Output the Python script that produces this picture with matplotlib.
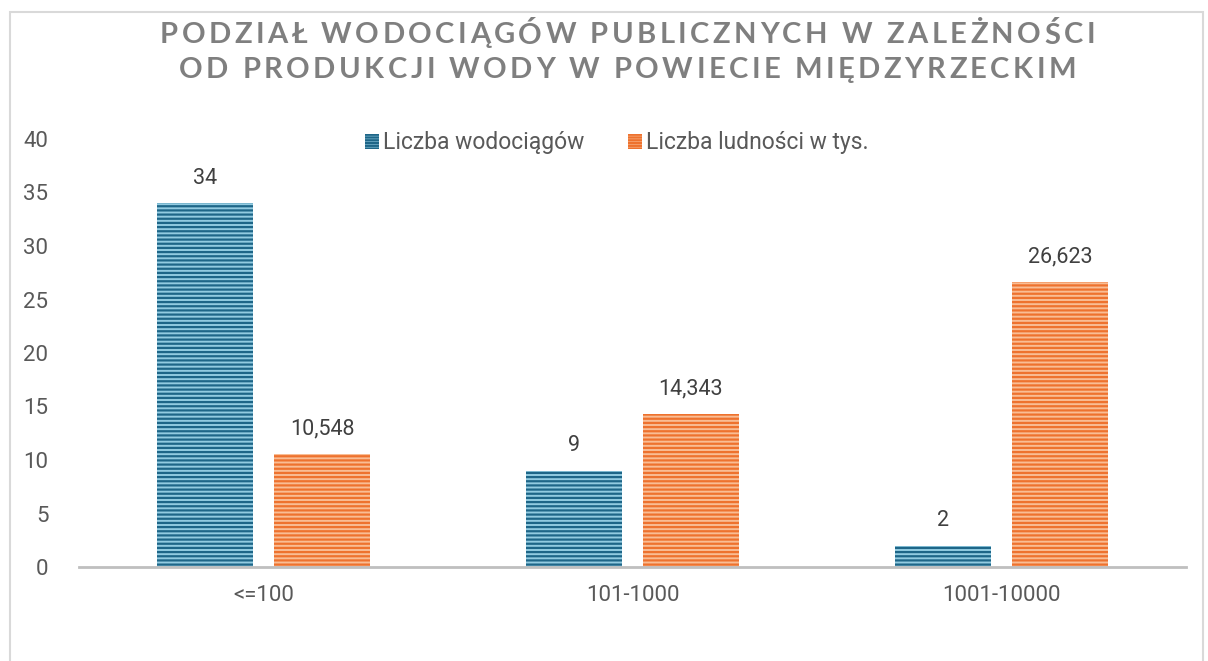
import matplotlib.pyplot as plt
import matplotlib.patches as mpatches
import numpy as np

categories = ["<=100", "101-1000", "1001-10000"]
wodociagi = [34, 9, 2]
ludnosc = [10.548, 14.343, 26.623]
wodociagi_labels = ["34", "9", "2"]
ludnosc_labels = ["10,548", "14,343", "26,623"]
yticks = [0, 5, 10, 15, 20, 25, 30, 35, 40]
legend_labels = ["Liczba wodociągów", "Liczba ludności w tys."]

title_lines = ["PODZIAŁ WODOCIĄGÓW PUBLICZNYCH W ZALEŻNOŚCI",
               "OD PRODUKCJI WODY W POWIECIE MIĘDZYRZECKIM"]

blue_face, blue_line = "#92cbe1", (0x1e / 255, 0x66 / 255, 0x88 / 255, 1)
orange_face, orange_line = "#f9bd94", (0xee / 255, 0x72 / 255, 0x2e / 255, 1)
text_col = "#595959"
label_col = "#404040"

plt.rcParams["font.family"] = ["Roboto", "DejaVu Sans"]
plt.rcParams["hatch.linewidth"] = 1.6

W, H = 1208, 661
fig = plt.figure(figsize=(W / 100, H / 100), dpi=100)
ax = fig.add_axes([79 / W, 1 - 567 / H, (1186 - 79) / W, (567 - 139) / H])

# chart border
fig.patches.append(mpatches.Rectangle((10 / W, -0.1), 1193 / W, 1 - 12 / H + 0.1,
                                      transform=fig.transFigure, fill=False,
                                      edgecolor="#d9d9d9", linewidth=1.5))

x = np.arange(len(categories))
w = 0.26
gap = 0.057
b1 = ax.bar(x - (w + gap) / 2, wodociagi, w, color=blue_face, hatch="----", linewidth=0)
b2 = ax.bar(x + (w + gap) / 2, ludnosc, w, color=orange_face, hatch="----", linewidth=0)
for r in b1:
    r._hatch_color = blue_line
for r in b2:
    r._hatch_color = orange_line

for bars, labels in [(b1, wodociagi_labels), (b2, ludnosc_labels)]:
    for r, lab in zip(bars, labels):
        ax.annotate(lab, (r.get_x() + r.get_width() / 2, r.get_height()), xytext=(0, 18),
                    textcoords="offset points", ha="center", va="center", fontsize=15.5,
                    color=label_col)

ax.set_xlim(-0.5, 2.5)
ax.set_ylim(0, 40)
ax.set_yticks(yticks)
ax.set_xticks(x)
ax.set_xticklabels(categories)
ax.tick_params(axis="both", length=0, labelsize=16, labelcolor=text_col)
ax.tick_params(axis="y", pad=22)
ax.tick_params(axis="x", pad=13)
for s in ["top", "right", "left"]:
    ax.spines[s].set_visible(False)
ax.spines["bottom"].set_color("#bfbfbf")
ax.spines["bottom"].set_linewidth(2)

h1 = mpatches.Patch(facecolor=blue_face, hatch="------", linewidth=0)
h2 = mpatches.Patch(facecolor=orange_face, hatch="------", linewidth=0)
h1._hatch_color = blue_line
h2._hatch_color = orange_line
fig.legend([h1, h2], legend_labels, loc="center",
           bbox_to_anchor=(617 / W, 1 - 143 / H), ncol=2, frameon=False, fontsize=16.5,
           labelcolor=text_col, handlelength=0.6, handleheight=0.6, handletextpad=0.2,
           columnspacing=1.9)

# title with letter spacing, drawn character by character
renderer = fig.canvas.get_renderer()
title_kw = dict(fontsize=21, color="#7f7f7f", family=["Lato", "DejaVu Sans"],
                fontweight="bold", va="center", ha="left")


def char_width(c):
    if c == " ":
        t1 = fig.text(0, 0, "I I", **title_kw)
        t2 = fig.text(0, 0, "II", **title_kw)
        wdt = t1.get_window_extent(renderer).width - t2.get_window_extent(renderer).width
        t1.remove()
        t2.remove()
        return wdt
    t = fig.text(0, 0, c, **title_kw)
    wdt = t.get_window_extent(renderer).width
    t.remove()
    return wdt


widths = [[char_width(c) for c in line] for line in title_lines]
target = 1095 - 160
track = (target - sum(widths[0])) / (len(title_lines[0]) - 1)
centre_x = 627.5
for line, ws, yc in zip(title_lines, widths, [35, 70]):
    total = sum(ws) + track * (len(line) - 1)
    px = centre_x - total / 2
    for c, cw in zip(line, ws):
        if c != " ":
            fig.text(px / W, 1 - yc / H, c, **title_kw)
        px += cw + track

fig.savefig("out.png", dpi=100)
